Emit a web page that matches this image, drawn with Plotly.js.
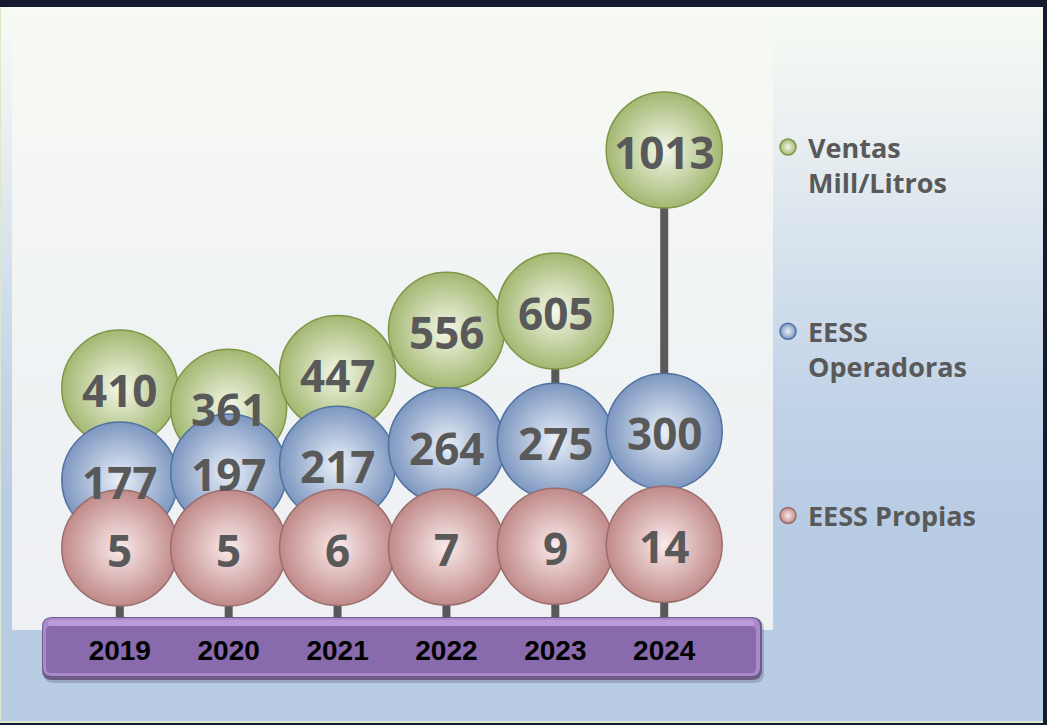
<!DOCTYPE html>
<html>
<head>
<meta charset="utf-8">
<script src="https://cdn.plot.ly/plotly-3.0.1.min.js"></script>
<style>
  html, body { margin: 0; padding: 0; width: 1047px; height: 725px; overflow: hidden; background: #141b2f; }
  #frame { position: absolute; left: 0; top: 7px; width: 1042px; height: 714px;
    background: linear-gradient(to bottom, #f8fbf4 0%, #e9eff1 18%, #d3dfec 38%, #c2d3e8 55%, #b8cce4 72%, #b8cce4 100%);
    border-left: 1px solid #dbe8cc; border-bottom: 2px solid #dbe8cc; }
  #inner { position: absolute; left: 12px; top: 20px; width: 761px; height: 610px;
    background: linear-gradient(to bottom, #f7faf3 0%, #f0f3f4 50%, #eef0f3 100%); }
  #chart { position: absolute; left: 0; top: 0; width: 1047px; height: 725px; }
</style>
</head>
<body>
<div id="frame"></div>
<div id="inner"></div>
<div id="chart"></div>
<script>
// ---- data ----
const years = ['2019', '2020', '2021', '2022', '2023', '2024'];
const ventas = [410, 361, 447, 556, 605, 1013];
const operadoras = [177, 197, 217, 264, 275, 300];
const propias = [5, 5, 6, 7, 9, 14];
const seriesNames = ['Ventas<br>Mill/Litros', 'EESS<br>Operadoras', 'EESS Propias'];

// ---- layout constants ----
const Y_MIN = -170, Y_MAX = 1342;
const W = 1047, H = 725;
const M = {l: 12, r: 275, t: 20, b: 108};
const plotW = W - M.l - M.r, plotH = H - M.t - M.b;

const sphereSize = 116;

// drop lines from highest value down to the axis base
const dropX = [], dropY = [];
years.forEach((y, i) => {
  const top = Math.max(ventas[i], operadoras[i], propias[i]);
  dropX.push(y, y, null);
  dropY.push(top, Y_MIN, null);
});

function sphereTrace(vals, name, edge, center, line, group) {
  return {
    type: 'scatter', mode: 'markers', x: years, y: vals, name: name,
    legendgroup: group, cliponaxis: false,
    marker: {size: sphereSize, color: edge, line: {color: line, width: 1.5},
             gradient: {type: 'radial', color: center}},
    hoverinfo: 'skip'
  };
}

const traces = [
  {type: 'scatter', mode: 'lines', x: dropX, y: dropY, showlegend: false,
   line: {color: '#595959', width: 8}, hoverinfo: 'skip', cliponaxis: false},
  sphereTrace(ventas, seriesNames[0], '#a3b872', '#f4f8e9', '#7f9647', 'g1'),
  sphereTrace(operadoras, seriesNames[1], '#7d97c0', '#eaf0f9', '#52729f', 'g2'),
  sphereTrace(propias, seriesNames[2], '#c08a8a', '#fbeaea', '#9c6d6d', 'g3')
];

// value labels on top of every sphere (x given as category index)
const annotations = [];
[ventas, operadoras, propias].forEach(vals => {
  vals.forEach((v, i) => {
    annotations.push({xref: 'x', yref: 'y', x: i, y: v, text: String(v), showarrow: false,
      yshift: -2, xanchor: 'center', yanchor: 'middle',
      font: {family: 'Open Sans, sans-serif', size: 44, color: '#595959', weight: 700}});
  });
});

// purple axis band (paper coords)
function px2x(px) { return (px - M.l) / plotW; }
function py2y(py) { return (H - M.b - py) / plotH; }
function roundRect(x0, y0, x1, y1, r) {
  const X = px2x, Y = py2y;
  return 'M' + X(x0 + r) + ',' + Y(y0) +
    ' L' + X(x1 - r) + ',' + Y(y0) + ' Q' + X(x1) + ',' + Y(y0) + ' ' + X(x1) + ',' + Y(y0 + r) +
    ' L' + X(x1) + ',' + Y(y1 - r) + ' Q' + X(x1) + ',' + Y(y1) + ' ' + X(x1 - r) + ',' + Y(y1) +
    ' L' + X(x0 + r) + ',' + Y(y1) + ' Q' + X(x0) + ',' + Y(y1) + ' ' + X(x0) + ',' + Y(y1 - r) +
    ' L' + X(x0) + ',' + Y(y0 + r) + ' Q' + X(x0) + ',' + Y(y0) + ' ' + X(x0 + r) + ',' + Y(y0) + ' Z';
}
const shapes = [
  {type: 'path', xref: 'paper', yref: 'paper', layer: 'below', path: roundRect(44, 619, 764, 683, 10), fillcolor: 'rgba(60,60,80,0.25)', line: {width: 0}},
  {type: 'path', xref: 'paper', yref: 'paper', layer: 'below', path: roundRect(42, 617, 762, 680, 10), fillcolor: '#6e5b88', line: {width: 0}},
  {type: 'path', xref: 'paper', yref: 'paper', layer: 'below', path: roundRect(43, 618, 760, 676, 9), fillcolor: '#a98bcb', line: {width: 0}},
  {type: 'path', xref: 'paper', yref: 'paper', layer: 'below', path: roundRect(46, 626, 756, 673, 5), fillcolor: '#896aad', line: {width: 0}},
  {type: 'path', xref: 'paper', yref: 'paper', layer: 'below', path: roundRect(48, 620, 754, 626, 3), fillcolor: '#bb9bdb', line: {width: 0}}
];

const layout = {
  width: W, height: H, margin: M,
  paper_bgcolor: 'rgba(0,0,0,0)', plot_bgcolor: 'rgba(0,0,0,0)',
  showlegend: true,
  xaxis: {type: 'category', range: [-0.99, 5.99], showgrid: false, zeroline: false, showline: false,
          ticks: '', ticklabelstandoff: 14,
          tickfont: {family: 'Liberation Sans, Arial, sans-serif', size: 28, color: '#000000', weight: 700},
          fixedrange: true},
  yaxis: {range: [Y_MIN, Y_MAX], visible: false, fixedrange: true},
  legend: {x: px2x(768), y: py2y(123), xanchor: 'left', yanchor: 'top', bgcolor: 'rgba(0,0,0,0)',
           font: {family: 'Open Sans, sans-serif', size: 27, color: '#595959', weight: 700},
           tracegroupgap: 111, valign: 'top', itemsizing: 'trace'},
  annotations: annotations,
  shapes: shapes
};

Plotly.newPlot('chart', traces, layout, {displayModeBar: false, staticPlot: true});
</script>
</body>
</html>
